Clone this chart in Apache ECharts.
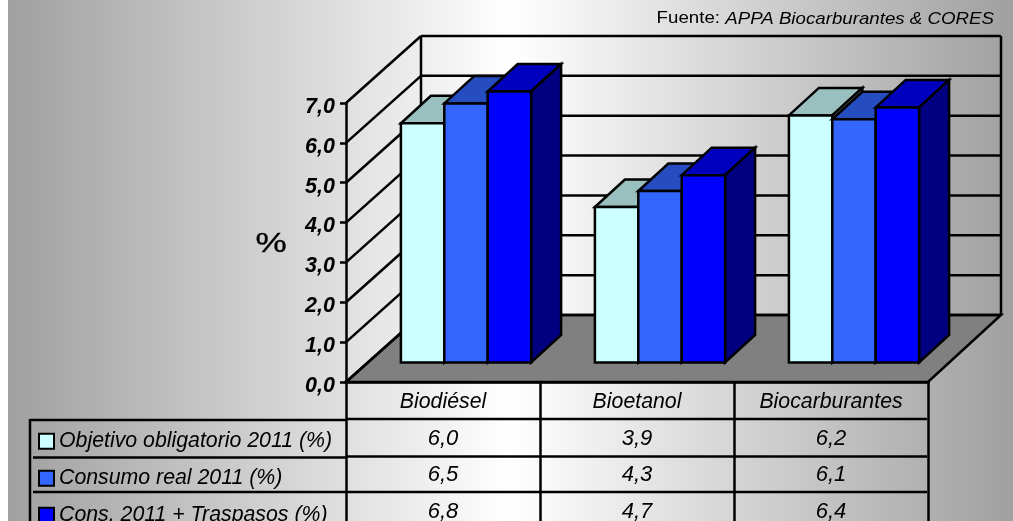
<!DOCTYPE html>
<html>
<head>
<meta charset="utf-8">
<style>html,body{margin:0;padding:0;background:#fff}#c{width:1013px;height:521px}</style>
<script src="https://cdn.jsdelivr.net/npm/echarts@6/dist/echarts.min.js"></script>
</head>
<body>
<div id="c"></div>
<script>
const categories = ['Biodiésel', 'Bioetanol', 'Biocarburantes'];
const seriesNames = ['Objetivo obligatorio 2011 (%)', 'Consumo real 2011 (%)', 'Cons. 2011 + Traspasos (%)'];
const objetivo = [6.0, 3.9, 6.2];
const consumo = [6.5, 4.3, 6.1];
const traspasos = [6.8, 4.7, 6.4];
const yTicks = [0, 1, 2, 3, 4, 5, 6, 7];

const seriesValues = [objetivo, consumo, traspasos];
const faceColors = [
  { front: '#CCFFFF', top: '#99BFBF', side: '#668080' },
  { front: '#3366FF', top: '#264DBF', side: '#1A3380' },
  { front: '#0000FF', top: '#0000BF', side: '#000080' }
];
const FONT = '"Liberation Sans", Arial, sans-serif';
const LW = 2.5;
const WALL_DX = 75, WALL_DY = -67;
const BAR_OFF_X = 23, BAR_OFF_Y = -19.5, BAR_W = 43.4, BAR_DX = 30, BAR_DY = -27.5;
const ROW_Y = [438.5, 475, 511.5];

const chart = echarts.init(document.getElementById('c'), null, { renderer: 'canvas' });
const fmt = v => v.toFixed(1).replace('.', ',');
const black = { stroke: '#000', lineWidth: LW, fill: null };

function poly(points, fill) {
  return { type: 'polygon', shape: { points }, style: { fill, stroke: '#000', lineWidth: LW, lineJoin: 'miter' } };
}
function seg(a, b) {
  return { type: 'line', shape: { x1: a[0], y1: a[1], x2: b[0], y2: b[1] }, style: { stroke: '#000', lineWidth: LW, fill: null } };
}

const wallSeries = {
  type: 'custom', name: 'walls', coordinateSystem: 'cartesian2d', z: 1, silent: true, clip: false,
  data: yTicks.map(v => [0, v]),
  renderItem(params, api) {
    const v = api.value(1);
    const y = api.coord([0, v])[1];
    const xl = params.coordSys.x, xr = params.coordSys.x + params.coordSys.width;
    const children = [];
    if (v === 0) {
      children.push(poly([[xl, y], [xl + WALL_DX, y + WALL_DY], [xr + WALL_DX - 2, y + WALL_DY], [xr, y]], '#808080'));
    }
    children.push(seg([xl, y], [xl + WALL_DX, y + WALL_DY]));
    children.push(seg([xl + WALL_DX, y + WALL_DY], [xr + WALL_DX - 2, y + WALL_DY]));
    if (v === yTicks[yTicks.length - 1]) {
      const y0 = api.coord([0, 0])[1];
      children.push(seg([xl + WALL_DX, y + WALL_DY], [xl + WALL_DX, y0 + WALL_DY]));
      children.push(seg([xr + WALL_DX - 2, y + WALL_DY], [xr + WALL_DX - 2, y0 + WALL_DY]));
    }
    return { type: 'group', children };
  }
};

const barSeries = seriesNames.map((name, s) => ({
  type: 'custom', name, coordinateSystem: 'cartesian2d', z: 2 + s, clip: false,
  itemStyle: { color: faceColors[s].front, borderColor: '#000', borderWidth: 2 },
  data: seriesValues[s].map((v, i) => [i, v]),
  renderItem(params, api) {
    const i = api.value(0), v = api.value(1);
    const base = api.coord([i, 0]);
    const top = api.coord([i, v]);
    const x0 = base[0] + BAR_OFF_X - 1.5 * BAR_W + s * BAR_W;
    const x1 = x0 + BAR_W;
    const yb = base[1] + BAR_OFF_Y, yt = top[1] + BAR_OFF_Y;
    const c = faceColors[s];
    return { type: 'group', children: [
      poly([[x0, yt], [x1, yt], [x1 + BAR_DX, yt + BAR_DY], [x0 + BAR_DX, yt + BAR_DY]], c.top),
      poly([[x1, yt], [x1 + BAR_DX, yt + BAR_DY], [x1 + BAR_DX, yb + BAR_DY], [x1, yb]], c.side),
      poly([[x0, yt], [x1, yt], [x1, yb], [x0, yb]], c.front)
    ] };
  }
}));

const tableSeries = {
  type: 'custom', name: 'tabla', coordinateSystem: 'cartesian2d', z: 6, silent: true, clip: false,
  data: seriesValues.flatMap((vals, r) => vals.map((v, i) => [i, v, r])),
  renderItem(params, api) {
    const i = api.value(0), v = api.value(1), r = api.value(2);
    return { type: 'text', style: {
      x: api.coord([i, 0])[0], y: ROW_Y[r], text: fmt(v), fill: '#000',
      font: 'italic 22px ' + FONT, align: 'center', verticalAlign: 'middle'
    } };
  }
};

const tableLines = [[30, 420, 346], [33, 457.5, 346], [33, 492, 346], [346, 419, 927], [346, 456.5, 927], [346, 492, 927]];

chart.setOption({
  animation: false,
  textStyle: { fontFamily: FONT },
  grid: { left: 346, top: 103, width: 582, height: 279, containLabel: false },
  legend: {
    data: seriesNames, icon: 'rect', orient: 'vertical', left: 38, top: 430.75, padding: 0, height: 200,
    itemWidth: 15, itemHeight: 15, itemGap: 16, selectedMode: false,
    textStyle: { fontSize: 21.3, fontStyle: 'italic', color: '#000', fontFamily: FONT, lineHeight: 15 }
  },
  xAxis: {
    type: 'category', data: categories, position: 'bottom',
    axisLine: { show: true, lineStyle: { color: '#000', width: 3.5 } },
    axisTick: { show: true, alignWithLabel: false, length: 140, lineStyle: { color: '#000', width: LW } },
    axisLabel: { fontSize: 21.3, fontStyle: 'italic', color: '#000', margin: 10, fontFamily: FONT },
    splitLine: { show: false }
  },
  yAxis: {
    type: 'value', min: 0, max: 7, interval: 1,
    axisLine: { show: true, lineStyle: { color: '#000', width: LW } },
    axisTick: { show: true, length: 6, lineStyle: { color: '#000', width: LW } },
    axisLabel: { fontSize: 21.5, fontStyle: 'italic', fontWeight: 'bold', color: '#000', margin: 11, verticalAlign: 'top', lineHeight: 8, fontFamily: FONT, formatter: v => fmt(v) },
    splitLine: { show: false }
  },
  graphic: [
    { type: 'rect', z: -10, silent: true, shape: { x: 8, y: 0, width: 1005, height: 521 },
      style: { fill: new echarts.graphic.LinearGradient(0, 0, 1, 0, [
        { offset: 0, color: '#a0a0a0' }, { offset: 0.5, color: '#ffffff' }, { offset: 1, color: '#a0a0a0' }
      ]) } },
    { type: 'text', z: 10, silent: true, x: 994, y: 19, scaleX: 1.155, scaleY: 1,
      style: { text: '{a|Fuente: }{b|APPA Biocarburantes & CORES}', align: 'right', verticalAlign: 'middle',
        rich: { a: { font: '16.2px ' + FONT, fill: '#000' }, b: { font: 'italic 16.2px ' + FONT, fill: '#000' } } } },
    { type: 'text', z: 10, silent: true, x: 271, y: 245, scaleX: 1.3, scaleY: 1,
      style: { text: '%', font: '27px ' + FONT, fill: '#000', stroke: '#000', lineWidth: 0.3, align: 'center', verticalAlign: 'middle' } },
    { type: 'line', z: 5, silent: true, shape: { x1: 30, y1: 419, x2: 30, y2: 521 }, style: black },
    ...tableLines.map(l => ({ type: 'line', z: 5, silent: true, shape: { x1: l[0], y1: l[1], x2: l[2], y2: l[1] }, style: black }))
  ],
  series: [wallSeries, ...barSeries, tableSeries]
});
</script>
</body>
</html>
